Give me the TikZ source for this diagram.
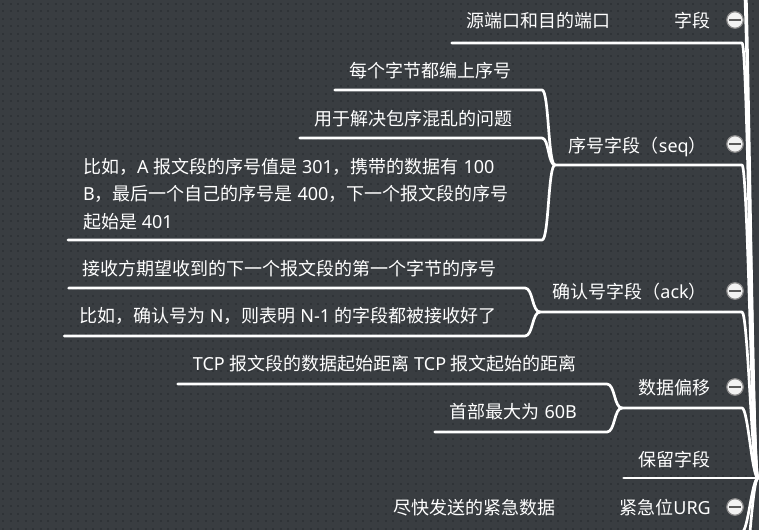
\documentclass[tikz,border=0pt]{standalone}
\usepackage{fontspec}
\setmainfont{Noto Sans CJK SC}
\newfontfamily\lat{Noto Sans}
\definecolor{bgc}{HTML}{393D41}
\definecolor{dotc}{HTML}{2F3337}
\definecolor{iconring}{HTML}{8C8C8C}
\definecolor{iconfill}{HTML}{F2F2F2}
\definecolor{iconbar}{HTML}{5A5A5A}
\tikzset{
  lbl/.style={text=white, inner sep=0pt, font=\fontsize{18}{27.5}\selectfont},
  branch/.style={draw=white, line width=2.7pt, line cap=round, line join=round},
  fold/.style={circle, draw=iconring, fill=iconfill, line width=1.2pt, minimum size=16.5pt, inner sep=0pt,
    path picture={\draw[iconbar, line width=2pt] ([xshift=-6pt]path picture bounding box.center) -- ([xshift=6pt]path picture bounding box.center);}},
}
\begin{document}
\begin{tikzpicture}[x=1pt,y=-1pt]
\fill[bgc] (0,0) rectangle (759,530);
\useasboundingbox (0,0) rectangle (759,530);
\clip (0,0) rectangle (759,530);
\foreach \r in {0,...,70} {
  \draw[dotc, line width=2pt, dash pattern=on 2pt off 5.5pt] (2,{3.75+7.5*\r}) -- (759,{3.75+7.5*\r});
}
% coordinates
\coordinate (root) at (758,478);
\coordinate (up1) at (742,-45);
\coordinate (up2) at (742,-95);
\coordinate (dn2) at (742,585);
\coordinate (k1) at (742,43);
\coordinate (k2) at (742,165);
\coordinate (k3) at (742,312);
\coordinate (k4) at (742,408);
\coordinate (k5) at (742,478);
\coordinate (k6) at (742,532);
\coordinate (j2) at (555,165);
\coordinate (j3) at (540,312);
\coordinate (j4) at (622,408);
\coordinate (e21) at (542,90);
\coordinate (e22) at (542,138);
\coordinate (e23) at (542,240);
\coordinate (e31) at (525,288);
\coordinate (e32) at (525,336);
\coordinate (e41) at (607,384);
\coordinate (e42) at (607,432);

% category nodes
\node[lbl, anchor=base east] (c1) at (711,27) {字段};
\node[lbl, anchor=base east] (c2) at (707,152) {序号字段（{\lat seq}）};
\node[lbl, anchor=base east] (c3) at (707,298.5) {确认号字段（{\lat ack}）};
\node[lbl, anchor=base east] (c4) at (711,394) {数据偏移};
\node[lbl, anchor=base east] (c5) at (711,466) {保留字段};
\node[lbl, anchor=base east] (c6) at (711,514) {紧急位{\lat URG}};

% child nodes
\node[lbl, anchor=base east] (t11) at (611,27) {源端口和目的端口};
\node[lbl, anchor=base east] (t21) at (512,77) {每个字节都编上序号};
\node[lbl, anchor=base east] (t22) at (513,125) {用于解决包序混乱的问题};
\node[lbl, anchor=west, align=left] (t23) at (83,194) {比如，{\lat A }报文段的序号值是{\lat\ 301}，携带的数据有{\lat\ 100}\\{\lat B}，最后一个自己的序号是{\lat\ 400}，下一个报文段的序号\\起始是{\lat\ 401}};
\node[lbl, anchor=base east] (t31) at (497,275) {接收方期望收到的下一个报文段的第一个字节的序号};
\node[lbl, anchor=base east] (t32) at (497,322) {比如，确认号为{\lat\ N}，则表明{\lat\ N-1 }的字段都被接收好了};
\node[lbl, anchor=base east] (t41) at (577,370) {{\lat TCP }报文段的数据起始距离{\lat\ TCP }报文起始的距离};
\node[lbl, anchor=base east] (t42) at (577,418) {首部最大为{\lat\ 60B}};
\node[lbl, anchor=base east] (t61) at (556,514) {尽快发送的紧急数据};

% underline starts
\coordinate (s11) at ([xshift=-15pt]t11.west);
\coordinate (s21) at ([xshift=-15pt]t21.west);
\coordinate (s22) at ([xshift=-15pt]t22.west);
\coordinate (s23) at ([xshift=-15pt]t23.west);
\coordinate (s31) at ([xshift=-14pt]t31.west);
\coordinate (s32) at ([xshift=-15pt]t32.west);
\coordinate (s41) at ([xshift=-15pt]t41.west);
\coordinate (s42) at ([xshift=-15pt]t42.west);
\coordinate (s5) at ([xshift=-15pt]c5.west);
\coordinate (s61) at ([xshift=-15pt]t61.west);

% category connectors to root
\draw[branch] (up2) .. controls +(6,0) and +(-6,0) .. (root);
\draw[branch] (up1) .. controls +(6,0) and +(-6,0) .. (root);
\draw[branch] (s11 |- k1) -- (k1) .. controls +(6,0) and +(-6,0) .. (root);
\draw[branch] (j2) -- (k2) .. controls +(6,0) and +(-6,0) .. (root);
\draw[branch] (j3) -- (k3) .. controls +(6,0) and +(-6,0) .. (root);
\draw[branch] (j4) -- (k4) .. controls +(6,0) and +(-6,0) .. (root);
\draw[branch] (s5 |- k5) -- (k5) -- (root);
\draw[branch] (s61 |- k6) -- (k6) .. controls +(6,0) and +(-6,0) .. (root);
\draw[branch] (dn2) .. controls +(6,0) and +(-6,0) .. (root);

% child connectors
\draw[branch] (s21 |- e21) -- (e21) .. controls +(7,0) and +(-7,0) .. (j2);
\draw[branch] (s22 |- e22) -- (e22) .. controls +(7,0) and +(-7,0) .. (j2);
\draw[branch] (s23 |- e23) -- (e23) .. controls +(7,0) and +(-7,0) .. (j2);
\draw[branch] (s31 |- e31) -- (e31) .. controls +(8,0) and +(-8,0) .. (j3);
\draw[branch] (s32 |- e32) -- (e32) .. controls +(8,0) and +(-8,0) .. (j3);
\draw[branch] (s41 |- e41) -- (e41) .. controls +(8,0) and +(-8,0) .. (j4);
\draw[branch] (s42 |- e42) -- (e42) .. controls +(8,0) and +(-8,0) .. (j4);

% fold icons
\node[fold] (f1) at (735,20) {};
\node[fold] (f2) at (735,144) {};
\node[fold] (f3) at (735,291) {};
\node[fold] (f4) at (735,387) {};
\node[fold] (f6) at (735,507) {};
\end{tikzpicture}
\end{document}
